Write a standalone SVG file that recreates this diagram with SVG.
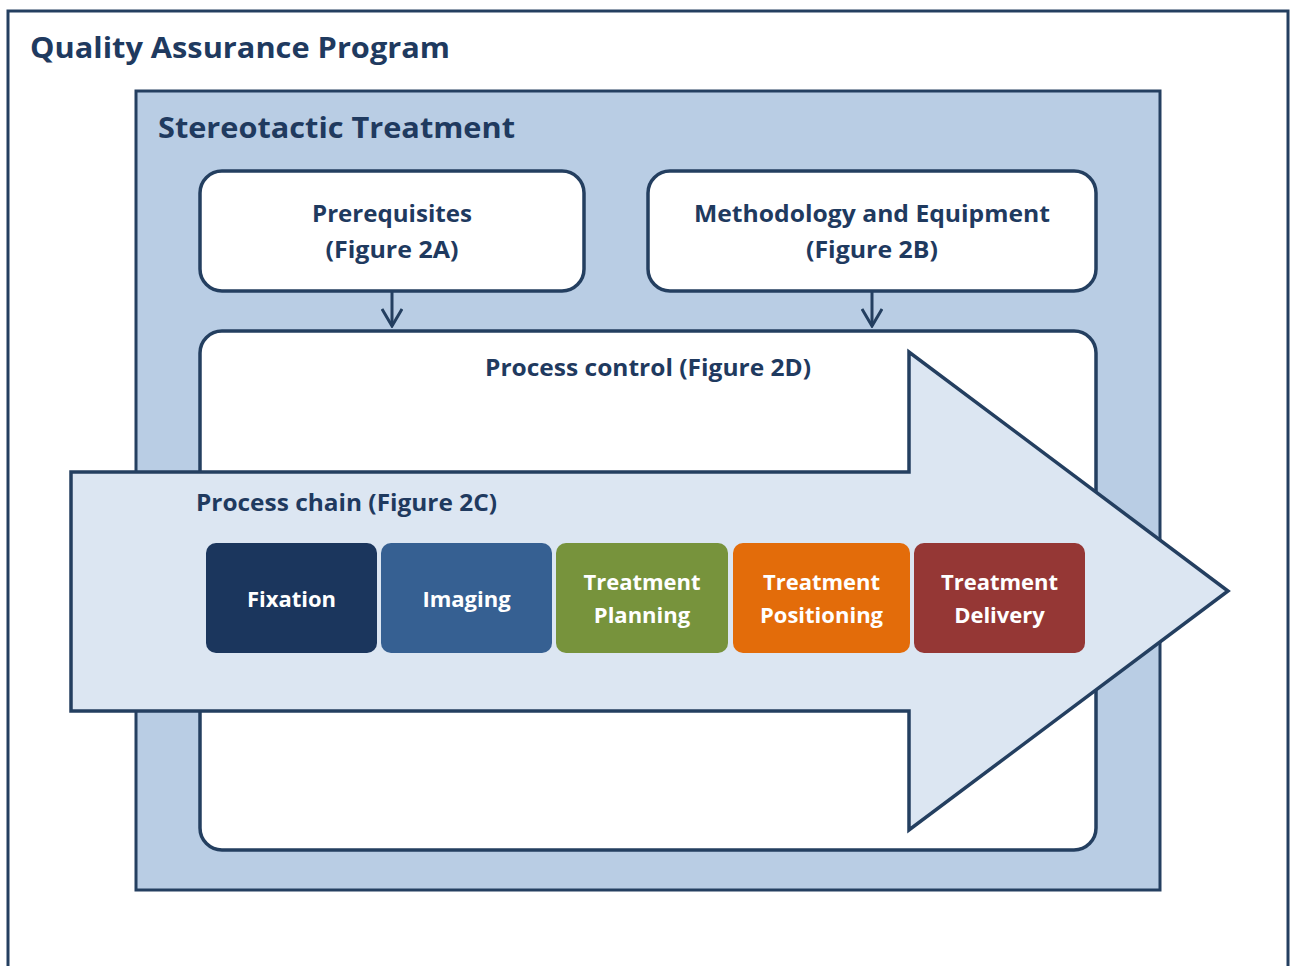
<svg xmlns="http://www.w3.org/2000/svg" width="1293" height="966" viewBox="0 0 1293 966">
<defs>
<style>
.frame{fill:none;stroke:#243f60;stroke-width:3}
.box{fill:#ffffff;stroke:#243f60;stroke-width:3.5}
.title{font-family:"Open Sans","Noto Sans","Liberation Sans",sans-serif;font-weight:bold;fill:#1f3a5f}
.lbl{font-family:"Open Sans","Noto Sans","Liberation Sans",sans-serif;font-weight:bold;fill:#1f3a5f;font-size:23px;text-anchor:middle}
.step{font-family:"Open Sans","Noto Sans","Liberation Sans",sans-serif;font-weight:bold;fill:#ffffff;font-size:22px;text-anchor:middle}
.conn{fill:none;stroke:#243f60;stroke-width:3}
</style>
<marker id="vhead" viewBox="0 0 20 22" refX="18" refY="11" markerWidth="20" markerHeight="22" markerUnits="userSpaceOnUse" orient="auto">
<path d="M1,1 L18,11 L1,21" fill="none" stroke="#243f60" stroke-width="3"/>
</marker>
</defs>
<rect width="1293" height="966" fill="#ffffff"/>
<g id="qa-program">
<rect class="frame" x="8" y="11" width="1280" height="970"/>
<text class="title" x="30" y="58" font-size="29" textLength="420" lengthAdjust="spacingAndGlyphs">Quality Assurance Program</text>
</g>
<g id="stereotactic">
<rect x="136" y="91" width="1024" height="799" fill="#b9cde4" stroke="#243f60" stroke-width="3"/>
<text class="title" x="158" y="138" font-size="29" textLength="357" lengthAdjust="spacingAndGlyphs">Stereotactic Treatment</text>
</g>
<g id="prerequisites">
<rect class="box" x="200" y="171" width="384" height="120" rx="22"/>
<text class="lbl" x="392" y="222" textLength="160" lengthAdjust="spacingAndGlyphs">Prerequisites</text>
<text class="lbl" x="392" y="258" textLength="133" lengthAdjust="spacingAndGlyphs">(Figure 2A)</text>
</g>
<g id="methodology">
<rect class="box" x="648" y="171" width="448" height="120" rx="22"/>
<text class="lbl" x="872" y="222" textLength="356" lengthAdjust="spacingAndGlyphs">Methodology and Equipment</text>
<text class="lbl" x="872" y="258" textLength="132" lengthAdjust="spacingAndGlyphs">(Figure 2B)</text>
</g>
<g id="process-control">
<rect class="box" x="200" y="331" width="896" height="519" rx="22"/>
<text class="lbl" x="648" y="376" textLength="326" lengthAdjust="spacingAndGlyphs">Process control (Figure 2D)</text>
</g>
<g id="connectors">
<line class="conn" x1="392" y1="292" x2="392" y2="326" marker-end="url(#vhead)"/>
<line class="conn" x1="872" y1="292" x2="872" y2="326" marker-end="url(#vhead)"/>
</g>
<g id="process-chain">
<polygon points="71,472 909,472 909,352 1228,591 909,830 909,711 71,711" fill="#dce6f2" stroke="#243f60" stroke-width="3.5" stroke-linejoin="miter"/>
<text class="title" x="196" y="511" font-size="23" textLength="301" lengthAdjust="spacingAndGlyphs">Process chain (Figure 2C)</text>
</g>
<g id="fixation">
<rect x="206" y="543" width="171" height="110" rx="10" fill="#1b365d"/>
<text class="step" x="291.5" y="607">Fixation</text>
</g>
<g id="imaging">
<rect x="381" y="543" width="171" height="110" rx="10" fill="#366092"/>
<text class="step" x="466.5" y="607">Imaging</text>
</g>
<g id="planning">
<rect x="556" y="543" width="172" height="110" rx="10" fill="#77933c"/>
<text class="step" x="642" y="590">Treatment</text>
<text class="step" x="642" y="623">Planning</text>
</g>
<g id="positioning">
<rect x="733" y="543" width="177" height="110" rx="10" fill="#e36c0a"/>
<text class="step" x="821.5" y="590">Treatment</text>
<text class="step" x="821.5" y="623">Positioning</text>
</g>
<g id="delivery">
<rect x="914" y="543" width="171" height="110" rx="10" fill="#953735"/>
<text class="step" x="999.5" y="590">Treatment</text>
<text class="step" x="999.5" y="623">Delivery</text>
</g>
</svg>
